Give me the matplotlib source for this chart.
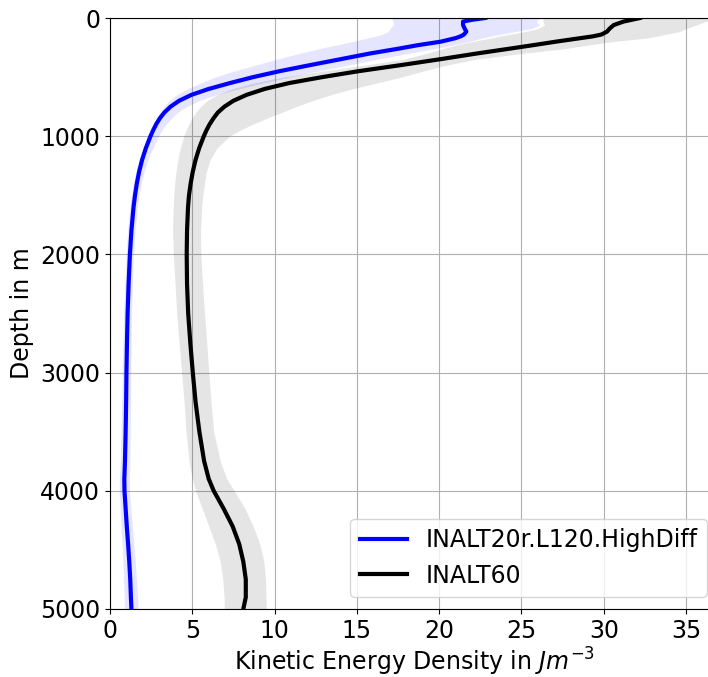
import matplotlib
matplotlib.use("Agg")
import matplotlib.pyplot as plt

# Depth levels (m) shared by every profile
depth = [0, 15, 30, 60, 90, 115, 140, 155, 170, 200, 230, 260, 300, 350, 400,
         450, 500, 550, 600, 650, 700, 750, 800, 850, 900, 950, 1000, 1100,
         1200, 1300, 1400, 1500, 1600, 1800, 2000, 2250, 2500, 2750, 3000,
         3250, 3500, 3750, 3900, 4000, 4150, 4300, 4450, 4600, 4750, 4900, 5000]

# INALT20r.L120.HighDiff: mean kinetic energy density and spread
ke_inalt20 = [22.8, 22.0, 21.45, 21.45, 21.55, 21.65, 21.5, 21.3, 21.0, 20.1,
              18.7, 17.5, 15.8, 13.95, 12.1, 10.3, 8.7, 7.3, 6.0, 4.95, 4.2,
              3.68, 3.3, 3.02, 2.8, 2.62, 2.46, 2.18, 1.95, 1.77, 1.63, 1.52,
              1.43, 1.3, 1.21, 1.13, 1.07, 1.03, 1.0, 0.98, 0.95, 0.91, 0.87,
              0.88, 0.95, 1.02, 1.1, 1.17, 1.23, 1.27, 1.3]
ke_inalt20_lo = [17.1, 17.15, 17.2, 17.2, 17.0, 16.9, 16.5, 16.1, 15.6, 14.7,
                 13.7, 12.7, 11.5, 10.1, 8.8, 7.5, 6.4, 5.5, 4.7, 4.05, 3.6,
                 3.28, 3.03, 2.82, 2.64, 2.48, 2.33, 2.04, 1.77, 1.57, 1.42,
                 1.3, 1.2, 1.07, 0.98, 0.9, 0.83, 0.78, 0.74, 0.71, 0.67, 0.62,
                 0.57, 0.57, 0.62, 0.67, 0.73, 0.78, 0.83, 0.86, 0.88]
ke_inalt20_hi = [26.2, 26.0, 25.9, 26.1, 25.6, 24.6, 23.6, 23.1, 22.6, 21.8,
                 20.8, 19.7, 18.1, 16.2, 14.4, 12.6, 10.9, 9.3, 7.8, 6.45, 5.4,
                 4.65, 4.1, 3.7, 3.4, 3.15, 2.95, 2.6, 2.3, 2.07, 1.9, 1.76,
                 1.66, 1.52, 1.43, 1.36, 1.31, 1.28, 1.26, 1.25, 1.24, 1.21,
                 1.18, 1.19, 1.27, 1.36, 1.45, 1.54, 1.61, 1.67, 1.7]

# INALT60: mean kinetic energy density and spread
ke_inalt60 = [32.2, 31.7, 31.2, 30.6, 30.35, 30.2, 29.85, 29.35, 28.6, 27.1,
              25.7, 24.25, 22.3, 20.0, 17.6, 15.1, 12.9, 10.9, 9.4, 8.3, 7.5,
              6.95, 6.55, 6.28, 6.05, 5.86, 5.7, 5.42, 5.2, 5.03, 4.9, 4.8,
              4.74, 4.68, 4.66, 4.68, 4.75, 4.88, 5.03, 5.2, 5.43, 5.72, 6.0,
              6.3, 6.9, 7.45, 7.85, 8.1, 8.25, 8.25, 8.1]
ke_inalt60_lo = [26.3, 26.3, 26.3, 26.4, 26.0, 25.2, 24.2, 23.6, 23.1, 22.0,
                 21.0, 20.2, 19.2, 17.8, 15.4, 12.9, 10.5, 8.7, 7.4, 6.5, 5.9,
                 5.5, 5.2, 4.97, 4.78, 4.62, 4.48, 4.27, 4.12, 4.01, 3.93,
                 3.87, 3.84, 3.8, 3.85, 3.95, 4.05, 4.2, 4.35, 4.5, 4.62, 4.8,
                 5.0, 5.2, 5.6, 6.0, 6.4, 6.7, 6.85, 6.93, 6.95]
ke_inalt60_hi = [37.5, 36.6, 36.2, 35.6, 35.0, 34.6, 33.7, 33.2, 32.6, 30.5,
                 29.0, 27.6, 25.0, 22.2, 20.4, 19.0, 17.7, 16.2, 14.7, 13.4,
                 12.3, 11.3, 10.4, 9.5, 8.65, 7.9, 7.25, 6.5, 6.08, 5.86, 5.74,
                 5.64, 5.57, 5.5, 5.52, 5.62, 5.74, 5.88, 6.0, 6.14, 6.3, 6.7,
                 7.1, 7.55, 8.2, 8.7, 9.1, 9.35, 9.45, 9.48, 9.5]

x_ticks = [0, 5, 10, 15, 20, 25, 30, 35]
y_ticks = [0, 1000, 2000, 3000, 4000, 5000]

fig = plt.figure(figsize=(7.08, 6.77), dpi=100)
# axes run slightly past the right edge of the canvas
ax = fig.add_axes([110 / 708, 68 / 677, 609 / 708, 591 / 677])

ax.fill_betweenx(depth, ke_inalt60_lo, ke_inalt60_hi, color="k", alpha=0.1,
                 linewidth=0)
ax.fill_betweenx(depth, ke_inalt20_lo, ke_inalt20_hi, color="blue", alpha=0.1,
                 linewidth=0)
ax.plot(ke_inalt20, depth, color="blue", lw=3, label="INALT20r.L120.HighDiff")
ax.plot(ke_inalt60, depth, color="black", lw=3, label="INALT60")

ax.set_xlim(0, 37.0)
ax.set_ylim(5000, 0)
ax.set_xticks(x_ticks)
ax.set_yticks(y_ticks)
ax.tick_params(labelsize=17)
ax.grid(True)
ax.set_axisbelow(True)
ax.set_xlabel("Kinetic Energy Density in $Jm^{-3}$", fontsize=17, labelpad=2)
ax.set_ylabel("Depth in m", fontsize=17)
ax.legend(loc="lower right", fontsize=17)

fig.savefig("out.png", dpi=100)
